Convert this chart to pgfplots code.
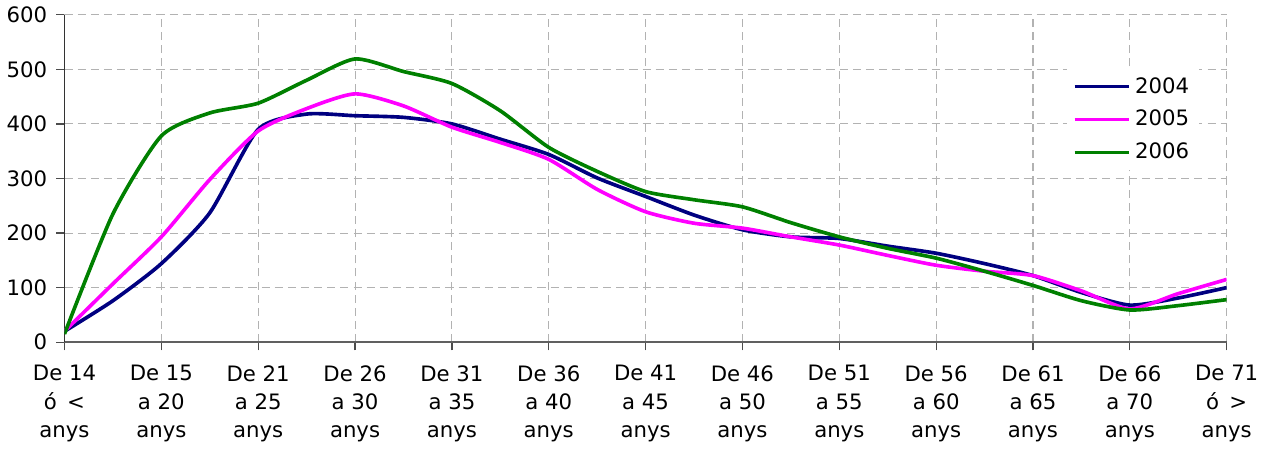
\documentclass[border=0pt]{standalone}
\usepackage{pgfplots}
\pgfplotsset{compat=1.18}
\usepackage{fontspec}
\setmainfont{DejaVu Sans}
\definecolor{c2004}{RGB}{0,0,128}
\definecolor{c2005}{RGB}{255,0,255}
\definecolor{c2006}{RGB}{0,128,0}
\begin{document}
\begin{tikzpicture}
\begin{axis}[
    scale only axis,
    width=575pt, height=162pt,
    xmin=0, xmax=12, ymin=0, ymax=600,
    xtick={0,...,12},
    xticklabels={{De 14\\ó \,<\\anys},{De 15\\a 20\\anys},{De 21\\a 25\\anys},{De 26\\a 30\\anys},{De 31\\a 35\\anys},{De 36\\a 40\\anys},{De 41\\a 45\\anys},{De 46\\a 50\\anys},{De 51\\a 55\\anys},{De 56\\a 60\\anys},{De 61\\a 65\\anys},{De 66\\a 70\\anys},{De 71\\ó \,>\\anys}},
    ytick={0,100,...,600},
    x tick label style={align=center, font=\fontsize{10.5}{14}\selectfont, yshift=-4pt},
    y tick label style={font=\fontsize{10.5}{12}\selectfont, xshift=-1pt},
    /pgf/number format/assume math mode=true,
    axis x line=bottom, axis y line=left,
    axis line style={-, line width=0.8pt},
    x axis line style={gray!75!black},
    y axis line style={black!80},
    tick style={black!70, line width=0.6pt},
    tick align=outside, major tick length=4pt,
    grid=major,
    grid style={dash pattern=on 4pt off 2.5pt, gray!60, line width=0.5pt},
    legend cell align=left,
    legend style={at={(rel axis cs:0.862,0.835)}, anchor=north west, draw=none, fill=white,
        font=\fontsize{10.5}{12}\selectfont, row sep=3pt},
    legend image code/.code={\draw[#1] (0cm,0cm) -- (0.95cm,0cm);},
    every axis plot/.append style={line width=1.8pt, smooth, tension=0.4},
]
\addplot[c2004] coordinates {
(0,20)(0.5,76)(1,144)(1.5,237)(2,390)(2.5,418)(3,415)(3.5,412)(4,400)(4.5,372)(5,344)(5.5,301)(6,267)(6.5,233)(7,206)(7.5,193)(8,190)(8.5,176)(9,163)(9.5,144)(10,122)(10.5,91)(11,68)(11.5,81)(12,100)
};
\addlegendentry{2004}
\addplot[c2005] coordinates {
(0,20)(0.5,107)(1,193)(1.5,298)(2,387)(2.5,428)(3,455)(3.5,433)(4,394)(4.5,366)(5,335)(5.5,280)(6,239)(6.5,218)(7,209)(7.5,193)(8,178)(8.5,159)(9,141)(9.5,130)(10,122)(10.5,94)(11,61)(11.5,89)(12,115)
};
\addlegendentry{2005}
\addplot[c2006] coordinates {
(0,15)(0.5,235)(1,378)(1.5,420)(2,438)(2.5,480)(3,519)(3.5,496)(4,474)(4.5,424)(5,357)(5.5,313)(6,276)(6.5,261)(7,248)(7.5,219)(8,193)(8.5,172)(9,154)(9.5,130)(10,104)(10.5,76)(11,59)(11.5,67)(12,78)
};
\addlegendentry{2006}
\end{axis}
\end{tikzpicture}
\end{document}
